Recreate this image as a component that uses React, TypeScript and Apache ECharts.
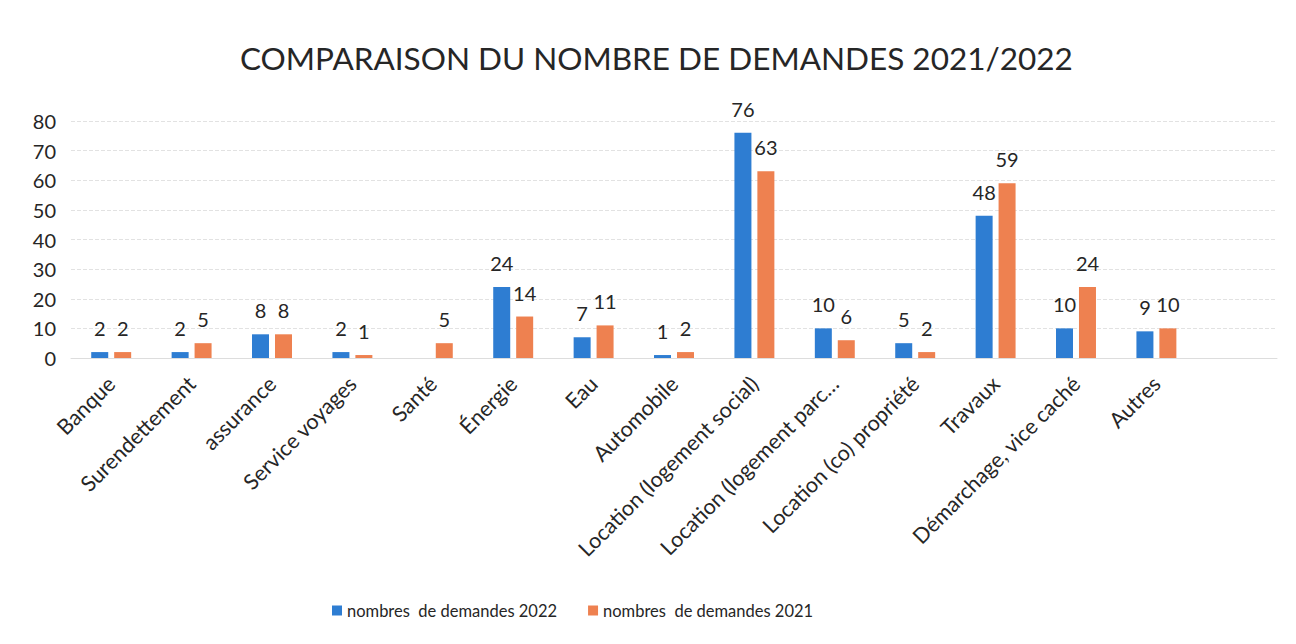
import React, { useEffect, useRef } from "react";
import * as echarts from "echarts";

const categories = [
  "Banque",
  "Surendettement",
  "assurance",
  "Service voyages",
  "Santé",
  "Énergie",
  "Eau",
  "Automobile",
  "Location (logement social)",
  "Location (logement parc…",
  "Location (co) propriété",
  "Travaux",
  "Démarchage, vice caché",
  "Autres",
];
const values2022: (number | null)[] = [2, 2, 8, 2, null, 24, 7, 1, 76, 10, 5, 48, 10, 9];
const values2021: number[] = [2, 5, 8, 1, 5, 14, 11, 2, 63, 6, 2, 59, 24, 10];
const yTicks = { min: 0, max: 80, interval: 10 };

const FONT = "Lato, 'Open Sans', sans-serif";

export default function App() {
  const ref = useRef<HTMLDivElement>(null);
  useEffect(() => {
    if (!ref.current) return;
    const chart = echarts.init(ref.current, undefined, { renderer: "svg" });
    const labelStyle = {
      show: true,
      position: "top" as const,
      fontSize: 20,
      color: "#262626",
      fontFamily: FONT,
      distance: 14,
    };
    chart.setOption({
      animation: false,
      backgroundColor: "#fff",
      title: {
        text: "COMPARAISON DU NOMBRE DE DEMANDES 2021/2022",
        left: 227,
        top: 29,
        textStyle: { fontSize: 31.5, fontWeight: "normal", color: "#262626", fontFamily: FONT },
      },
      legend: {
        bottom: 12,
        left: 319,
        itemWidth: 10,
        itemHeight: 10,
        itemGap: 31,
        icon: "rect",
        textStyle: { fontSize: 16.5, color: "#262626", fontFamily: FONT },
        data: ["nombres  de demandes 2022", "nombres  de demandes 2021"],
      },
      grid: { left: 63, right: 11, top: 113, bottom: 278, containLabel: false },
      xAxis: {
        type: "category",
        data: categories,
        max: categories.length,
        axisLine: { show: true, lineStyle: { color: "#ddd" } },
        axisTick: { show: false },
        axisLabel: {
          rotate: 45,
          interval: 0,
          fontSize: 21.5,
          color: "#262626",
          fontFamily: FONT,
          margin: 22,
        },
      },
      yAxis: {
        type: "value",
        min: yTicks.min,
        max: yTicks.max,
        interval: yTicks.interval,
        axisLine: { show: false },
        axisTick: { show: false },
        axisLabel: { fontSize: 20, color: "#262626", fontFamily: FONT, margin: 15 },
        splitLine: { lineStyle: { color: "#e2e2e2", type: "dashed" } },
      },
      series: [
        {
          name: "nombres  de demandes 2022",
          type: "bar",
          data: values2022,
          barWidth: 17,
          barGap: "35%",
          itemStyle: { color: "#2E7DD2" },
          label: labelStyle,
        },
        {
          name: "nombres  de demandes 2021",
          type: "bar",
          data: values2021,
          barWidth: 17,
          itemStyle: { color: "#EE8150" },
          label: labelStyle,
        },
      ],
    });
    return () => chart.dispose();
  }, []);
  return <div ref={ref} style={{ width: 1280, height: 628 }} />;
}
